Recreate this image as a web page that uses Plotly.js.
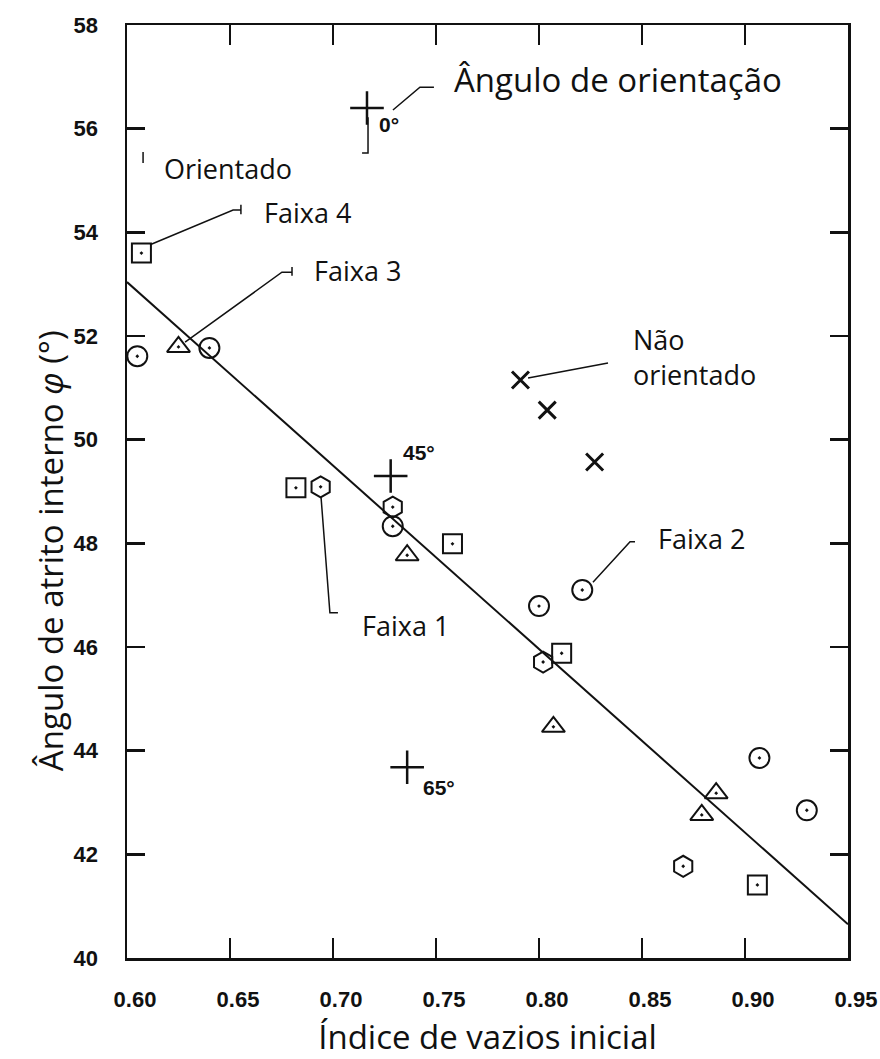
<!DOCTYPE html>
<html>
<head>
<meta charset="utf-8">
<script src="https://cdn.plot.ly/plotly-3.0.1.min.js"></script>
<style>html,body{margin:0;padding:0;background:#fff;}</style>
</head>
<body>
<div id="chart" style="width:880px;height:1059px;"></div>
<script>
// ---- data ----
const faixa1X = [0.694, 0.729, 0.802, 0.870];
const faixa1Y = [49.09, 48.70, 45.71, 41.77];
const faixa2X = [0.605, 0.640, 0.729, 0.800, 0.821, 0.907, 0.930];
const faixa2Y = [51.61, 51.77, 48.33, 46.79, 47.10, 43.86, 42.85];
const faixa3X = [0.625, 0.736, 0.807, 0.879, 0.886];
const faixa3Y = [51.79, 47.77, 44.46, 42.76, 43.18];
const faixa4X = [0.607, 0.682, 0.758, 0.811, 0.906];
const faixa4Y = [53.60, 49.07, 47.99, 45.88, 41.41];
const naoOrientadoX = [0.791, 0.804, 0.827];
const naoOrientadoY = [51.15, 50.57, 49.57];
const orientadoX = [0.7165, 0.728, 0.736];
const orientadoY = [56.40, 49.30, 43.68];
const orientadoLabels = ['0°', '45°', '65°'];
const fitX = [0.60, 0.95];
const fitY = [53.04, 40.65];
const xTickVals = [0.60, 0.65, 0.70, 0.75, 0.80, 0.85, 0.90, 0.95];
const xTickText = ['0.60', '0.65', '0.70', '0.75', '0.80', '0.85', '0.90', '0.95'];
const yTickVals = [40, 42, 44, 46, 48, 50, 52, 54, 56, 58];

const xTitle = 'Índice de vazios inicial';
const yTitle = 'Ângulo de atrito interno <i>φ</i> (°)';

// ---- styles ----
const black = '#111';
const labelFont = {family: 'Open Sans', size: 27, color: black};
const angleFont = {family: 'Liberation Sans', size: 21, color: black, weight: 'bold'};
const mk = (sym, size) => ({symbol: sym, size: size, color: black, line: {color: black, width: 2}});

const traces = [
  {x: fitX, y: fitY, mode: 'lines', line: {color: black, width: 2}, hoverinfo: 'skip'},
  {x: faixa1X, y: faixa1Y, mode: 'markers', name: 'Faixa 1', marker: mk('hexagon-open-dot', 21)},
  {x: faixa2X, y: faixa2Y, mode: 'markers', name: 'Faixa 2', marker: mk('circle-open-dot', 20)},
  {x: faixa3X, y: faixa3Y, mode: 'markers', name: 'Faixa 3', marker: mk('triangle-up-open-dot', 20)},
  {x: faixa4X, y: faixa4Y, mode: 'markers', name: 'Faixa 4', marker: mk('square-open-dot', 19)},
  {x: naoOrientadoX, y: naoOrientadoY, mode: 'markers', name: 'Não orientado',
   marker: {symbol: 'x-thin-open', size: 17, color: black, line: {color: black, width: 3}}},
  {x: orientadoX, y: orientadoY, mode: 'markers', name: 'Orientado',
   marker: {symbol: 'cross-thin-open', size: 24, color: black, line: {color: black, width: 2.5}}},
  // empty trace that carries the tick-mark overlay axes
  {x: [], y: [], xaxis: 'x2', yaxis: 'y2', mode: 'markers', hoverinfo: 'skip'}
];

const angleShift = [[10, -17], [10, 23], [14, -20]];
const annotations = orientadoLabels.map((t, i) => ({
  x: orientadoX[i], y: orientadoY[i], xref: 'x', yref: 'y', text: t, showarrow: false,
  xanchor: 'left', yanchor: 'middle', xshift: angleShift[i][0], yshift: angleShift[i][1], font: angleFont
}));

const textLabels = [
  {text: 'Ângulo de orientação', x: 0.7578, y: 56.94, size: 33},
  {text: 'Orientado', x: 0.617, y: 55.24, size: 27},
  {text: 'Faixa 4', x: 0.6655, y: 54.39, size: 27},
  {text: 'Faixa 3', x: 0.6898, y: 53.27, size: 27},
  {text: 'Faixa 1', x: 0.7131, y: 46.42, size: 27},
  {text: 'Faixa 2', x: 0.8568, y: 48.10, size: 27},
  {text: 'Não<br>orientado', x: 0.8447, y: 51.59, size: 27}
];
textLabels.forEach(l => annotations.push({
  x: l.x, y: l.y, xref: 'x', yref: 'y', text: l.text, showarrow: false, align: 'left',
  xanchor: 'left', yanchor: 'middle', font: Object.assign({}, labelFont, {size: l.size})
}));

annotations.push({
  x: -0.107, y: 0.437, xref: 'paper', yref: 'paper', text: yTitle, textangle: -90,
  showarrow: false, xanchor: 'center', yanchor: 'middle', font: {family: 'Open Sans', size: 33, color: black}
});

// leader lines
const leaders = [
  'M0.7291,56.36 L0.7422,56.80 L0.7490,56.80',
  'M0.7170,56.22 L0.7170,55.53 L0.7141,55.53',
  'M0.6078,55.55 L0.6078,55.34',
  'M0.6112,53.76 L0.6515,54.43 L0.6553,54.43 M0.6553,54.53 L0.6553,54.35',
  'M0.6282,51.88 L0.6752,53.23 L0.6801,53.23 M0.6801,53.33 L0.6801,53.16',
  'M0.6942,48.89 L0.6985,46.66 L0.7024,46.66',
  'M0.8262,47.25 L0.8442,48.03 L0.8466,48.03',
  'M0.7947,51.19 L0.8335,51.48'
];
const shapes = leaders.map(p => ({type: 'path', xref: 'x', yref: 'y', path: p, line: {color: black, width: 1.5}}));

const tickFont = {family: 'Liberation Sans', size: 22, color: black, weight: 'bold'};
const xRange = [0.60, 0.95];
const yRange = [40, 58];

const layout = {
  width: 880, height: 1059,
  margin: {l: 127, r: 32, t: 25, b: 101},
  paper_bgcolor: '#fff', plot_bgcolor: '#fff',
  showlegend: false,
  xaxis: {
    range: xRange, tickvals: xTickVals, ticktext: xTickText,
    ticks: '', showline: true, linewidth: 2.5, linecolor: black, mirror: true,
    showgrid: false, zeroline: false, tickfont: tickFont,
    ticklabelstandoff: 20, ticklabelshift: 8,
    title: {text: xTitle, font: {family: 'Open Sans', size: 33, color: black}, standoff: 22}
  },
  yaxis: {
    range: yRange, tickvals: yTickVals,
    ticks: '', showline: true, linewidth: 2.5, linecolor: black, mirror: true,
    showgrid: false, zeroline: false, tickfont: tickFont,
    ticklabelstandoff: 22
  },
  // overlay axes carrying only the inward tick marks (all four sides)
  xaxis2: {
    overlaying: 'x', anchor: 'y2', side: 'bottom', range: xRange, tickvals: xTickVals,
    ticks: 'inside', ticklen: 20, tickwidth: 2.5, tickcolor: black,
    showline: false, mirror: 'ticks', showticklabels: false, showgrid: false, zeroline: false
  },
  yaxis2: {
    overlaying: 'y', anchor: 'x2', side: 'left', range: yRange, tickvals: yTickVals,
    ticks: 'inside', ticklen: 18, tickwidth: 2.5, tickcolor: black,
    showline: false, mirror: 'ticks', showticklabels: false, showgrid: false, zeroline: false
  },
  annotations: annotations,
  shapes: shapes
};

Plotly.newPlot('chart', traces, layout, {displayModeBar: false, staticPlot: true});
</script>
</body>
</html>
